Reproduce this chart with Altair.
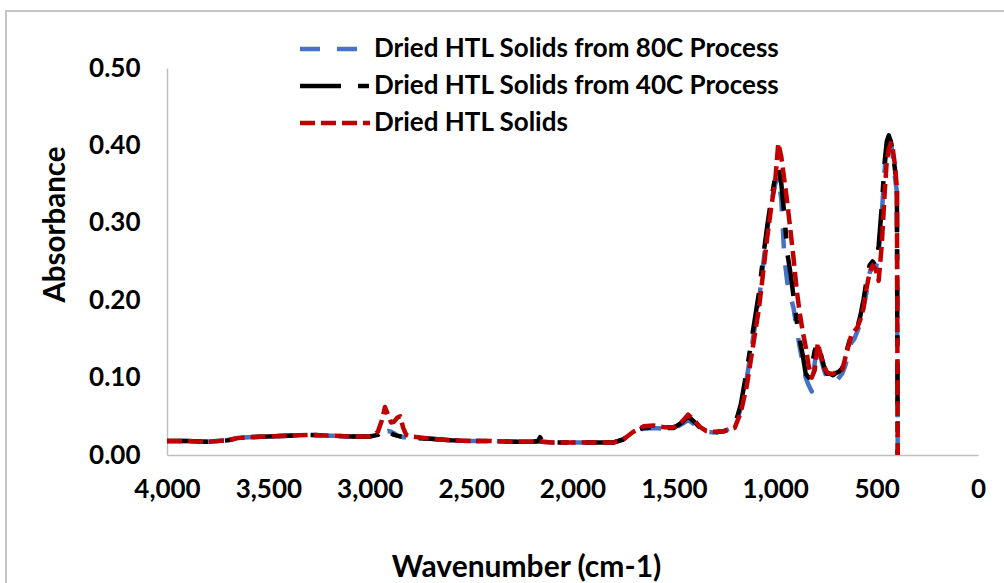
import altair as alt
import pandas as pd

# FTIR spectra: wavenumber grid (cm-1) and absorbance for each sample
wavenumber = [
    4000, 3900, 3800, 3700, 3650, 3600, 3500, 3400, 3300, 3200, 3100, 3000,
    2960, 2940, 2925, 2910, 2895, 2880, 2865, 2850, 2835, 2820, 2800, 2700,
    2600, 2500, 2400, 2300, 2200, 2170, 2160, 2150, 2100, 2000, 1900, 1800,
    1750, 1700, 1650, 1600, 1550, 1500, 1460, 1430, 1400, 1370, 1340, 1300,
    1250, 1200, 1170, 1140, 1110, 1080, 1060, 1040, 1020, 1000, 985, 970,
    955, 940, 925, 910, 895, 880, 865, 850, 835, 820, 805, 790, 775, 760,
    745, 730, 715, 700, 685, 670, 655, 640, 625, 610, 595, 580, 565, 550,
    535, 520, 505, 490, 475, 460, 450, 440, 430, 420, 410, 400, 396,
]

solids_80c = [
    0.018, 0.018, 0.017, 0.019, 0.022, 0.023, 0.024, 0.025, 0.026, 0.025, 0.024, 0.024,
    0.025, 0.028, 0.030, 0.031, 0.030, 0.028, 0.025, 0.024, 0.023, 0.023, 0.022, 0.021,
    0.019, 0.018, 0.018, 0.017, 0.017, 0.017, 0.017, 0.017, 0.016, 0.016, 0.016, 0.016,
    0.020, 0.030, 0.034, 0.035, 0.034, 0.034, 0.040, 0.045, 0.040, 0.034, 0.030, 0.029,
    0.031, 0.037, 0.060, 0.100, 0.150, 0.200, 0.245, 0.290, 0.325, 0.350, 0.360, 0.330,
    0.255, 0.222, 0.205, 0.190, 0.165, 0.140, 0.120, 0.100, 0.090, 0.082, 0.120, 0.140,
    0.125, 0.110, 0.100, 0.098, 0.093, 0.095, 0.100, 0.105, 0.115, 0.130, 0.145, 0.150,
    0.160, 0.170, 0.190, 0.210, 0.235, 0.245, 0.240, 0.260, 0.310, 0.370, 0.400, 0.410,
    0.405, 0.385, 0.360, 0.340, 0.000,
]

solids_40c = [
    0.018, 0.018, 0.017, 0.019, 0.022, 0.023, 0.024, 0.025, 0.026, 0.025, 0.024, 0.024,
    0.026, 0.030, 0.035, 0.033, 0.028, 0.026, 0.025, 0.024, 0.023, 0.023, 0.022, 0.021,
    0.019, 0.018, 0.018, 0.017, 0.017, 0.018, 0.023, 0.018, 0.016, 0.016, 0.016, 0.016,
    0.020, 0.030, 0.035, 0.036, 0.035, 0.035, 0.042, 0.050, 0.043, 0.035, 0.030, 0.029,
    0.031, 0.038, 0.065, 0.110, 0.160, 0.210, 0.255, 0.295, 0.330, 0.360, 0.372, 0.350,
    0.310, 0.260, 0.235, 0.205, 0.175, 0.150, 0.130, 0.105, 0.100, 0.115, 0.135, 0.145,
    0.130, 0.115, 0.105, 0.105, 0.103, 0.106, 0.108, 0.112, 0.128, 0.142, 0.155, 0.160,
    0.165, 0.180, 0.200, 0.225, 0.245, 0.250, 0.245, 0.270, 0.320, 0.380, 0.405, 0.413,
    0.405, 0.390, 0.370, 0.345, 0.000,
]

solids = [
    0.018, 0.018, 0.017, 0.019, 0.022, 0.023, 0.024, 0.025, 0.026, 0.025, 0.024, 0.024,
    0.030, 0.045, 0.062, 0.052, 0.042, 0.043, 0.048, 0.050, 0.035, 0.026, 0.024, 0.021,
    0.019, 0.018, 0.018, 0.017, 0.017, 0.017, 0.017, 0.017, 0.016, 0.016, 0.016, 0.016,
    0.020, 0.030, 0.037, 0.038, 0.036, 0.036, 0.043, 0.052, 0.045, 0.036, 0.031, 0.030,
    0.031, 0.035, 0.055, 0.090, 0.140, 0.190, 0.235, 0.280, 0.320, 0.355, 0.403, 0.385,
    0.355, 0.325, 0.290, 0.255, 0.215, 0.185, 0.160, 0.140, 0.115, 0.100, 0.110, 0.145,
    0.128, 0.115, 0.107, 0.105, 0.105, 0.107, 0.108, 0.110, 0.125, 0.140, 0.155, 0.160,
    0.165, 0.175, 0.190, 0.215, 0.235, 0.245, 0.240, 0.225, 0.270, 0.340, 0.380, 0.395,
    0.403, 0.395, 0.375, 0.345, 0.000,
]

series_names = [
    "Dried HTL Solids from 80C Process",
    "Dried HTL Solids from 40C Process",
    "Dried HTL Solids",
]
series_values = [solids_80c, solids_40c, solids]
series_colors = ["#4472C4", "#000000", "#C00000"]
series_dashes = [[20, 17], [41, 17, 11, 17], [15, 6]]

x_ticks = [0, 500, 1000, 1500, 2000, 2500, 3000, 3500, 4000]
y_ticks = [0.0, 0.1, 0.2, 0.3, 0.4, 0.5]

rows = []
for name, values in zip(series_names, series_values):
    for w, a in zip(wavenumber, values):
        rows.append({"Wavenumber": w, "Absorbance": a, "Sample": name})
df = pd.DataFrame(rows)

FONT = "Lato"

color_scale = alt.Scale(domain=series_names, range=series_colors)
dash_scale = alt.Scale(domain=series_names, range=series_dashes)

legend = alt.Legend(
    title=None,
    orient="none",
    legendX=155,
    legendY=-32,
    direction="vertical",
    symbolType="M-5,0H5",
    symbolSize=196,
    symbolStrokeWidth=4.5,
    labelOffset=26,
    labelFont=FONT,
    labelFontSize=26,
    labelFontWeight="bold",
    labelColor="#000000",
    labelLimit=600,
    rowPadding=11,
    padding=0,
)

x_enc = alt.X(
    "Wavenumber:Q",
    scale=alt.Scale(domain=[0, 4000], reverse=True, nice=False),
    axis=alt.Axis(
        values=x_ticks,
        format=",.0f",
        labelFlush=False,
        labelOverlap=False,
        title="Wavenumber (cm-1)",
        titleX=359,
        titleY=112,
        titleBaseline="middle",
        titleAlign="center",
    ),
)
y_enc = alt.Y(
    "Absorbance:Q",
    scale=alt.Scale(domain=[0, 0.5], nice=False),
    axis=alt.Axis(
        values=y_ticks,
        format=".2f",
        labelFlush=False,
        labelOverlap=False,
        title="Absorbance",
        titleX=-112,
        titleY=156,
        titleBaseline="middle",
        titleAlign="center",
    ),
)

layers = []
for name in series_names:
    layers.append(
        alt.Chart(df)
        .transform_filter(alt.datum.Sample == name)
        .mark_line(strokeWidth=4.5, strokeJoin="round")
        .encode(
            x=x_enc,
            y=y_enc,
            color=alt.Color("Sample:N", scale=color_scale, legend=legend),
            strokeDash=alt.StrokeDash("Sample:N", scale=dash_scale, legend=legend),
            order=alt.Order("Wavenumber:Q", sort="descending"),
        )
    )

# thin grey frame around the whole chart area
frame = alt.Chart(alt.Data(values=[{}])).mark_rect(
    fill="transparent", stroke="#b4b4b4", strokeWidth=1.5
).encode(
    x=alt.value(-161),
    x2=alt.value(850),
    y=alt.value(-57),
    y2=alt.value(530),
)

chart = (
    alt.layer(frame, *layers)
    .properties(
        width=811,
        height=387,
        autosize=alt.AutoSizeParams(type="none"),
        padding={"left": 167, "top": 68, "right": 26, "bottom": 128},
        background="white",
    )
    .configure_view(stroke=None)
    .configure_axis(
        grid=False,
        ticks=False,
        domainColor="#bfbfbf",
        domainWidth=1.5,
        labelFont=FONT,
        labelFontSize=26,
        labelFontWeight="bold",
        labelColor="#000000",
        titleFont=FONT,
        titleFontWeight="bold",
        titleColor="#000000",
    )
    .configure_axisX(labelPadding=21, titleFontSize=30)
    .configure_axisY(labelPadding=27, titleFontSize=29.5)
)

chart.save("out.html", embed_options={"renderer": "svg", "actions": False})
